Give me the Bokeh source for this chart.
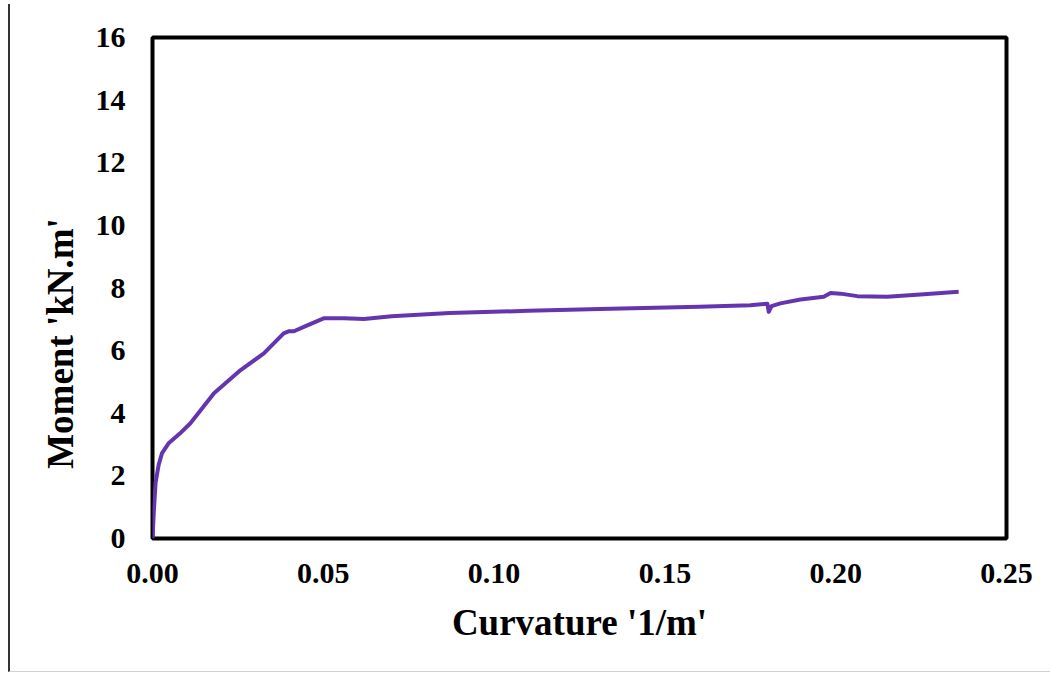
from bokeh.plotting import figure
from bokeh.embed import file_html
from bokeh.resources import INLINE
from bokeh.models import FixedTicker, NumeralTickFormatter, Range1d

curvature = [0.0, 0.0004, 0.0009, 0.0018, 0.0028, 0.0048, 0.0080, 0.0111, 0.0180, 0.0258,
             0.0326, 0.0384, 0.0400, 0.0414, 0.0443, 0.0501, 0.0560, 0.0619, 0.0700,
             0.0870, 0.1100, 0.1310, 0.1600, 0.1750, 0.1800, 0.1804, 0.1812, 0.1838,
             0.1897, 0.1965, 0.1985, 0.2014, 0.2063, 0.2150, 0.2248, 0.2360]
moment = [0.0, 0.9, 1.78, 2.35, 2.73, 3.05, 3.35, 3.68, 4.64, 5.38,
          5.91, 6.55, 6.62, 6.62, 6.76, 7.03, 7.03, 7.01, 7.10,
          7.20, 7.27, 7.33, 7.40, 7.45, 7.50, 7.24, 7.42, 7.51,
          7.63, 7.72, 7.84, 7.82, 7.74, 7.72, 7.79, 7.88]

y_ticks = [0, 2, 4, 6, 8, 10, 12, 14, 16]
x_ticks = [0.0, 0.05, 0.10, 0.15, 0.20, 0.25]
x_title = "Curvature '1/m'"
y_title = "Moment 'kN.m'"

p = figure(width=1042, height=668, output_backend="svg", toolbar_location=None,
           x_range=Range1d(0, 0.25), y_range=Range1d(0, 16),
           min_border_left=142, min_border_right=46, min_border_top=33, min_border_bottom=134)
p.styles = {"margin-left": "8px", "border-left": "2px solid #333", "margin-top": "4px",
            "border-bottom": "1px solid #d0d0d0"}

p.line(curvature, moment, line_color="#6535B0", line_width=4, line_join="round")

p.outline_line_color = "black"
p.outline_line_width = 4
p.xgrid.visible = False
p.ygrid.visible = False

for ax in (p.xaxis[0], p.yaxis[0]):
    ax.axis_line_color = None
    ax.major_tick_line_color = None
    ax.minor_tick_line_color = None
    ax.major_tick_out = 0
    ax.major_tick_in = 0
    ax.major_label_text_font = "Liberation Serif"
    ax.major_label_text_font_style = "bold"
    ax.major_label_text_font_size = "30px"
    ax.major_label_text_color = "black"
    ax.axis_label_text_font = "Liberation Serif"
    ax.axis_label_text_font_style = "bold"
    ax.axis_label_text_font_size = "37px"
    ax.axis_label_text_color = "black"

p.xaxis.ticker = FixedTicker(ticks=x_ticks)
p.xaxis.formatter = NumeralTickFormatter(format="0.00")
p.yaxis.ticker = FixedTicker(ticks=y_ticks)
p.xaxis.axis_label = x_title
p.yaxis.axis_label = y_title + "\u00a0" * 12
p.xaxis.major_label_standoff = 25
p.yaxis.major_label_standoff = 27
p.xaxis.axis_label_standoff = 16
p.yaxis.axis_label_standoff = 12

open("out.html", "w").write(file_html(p, INLINE))
